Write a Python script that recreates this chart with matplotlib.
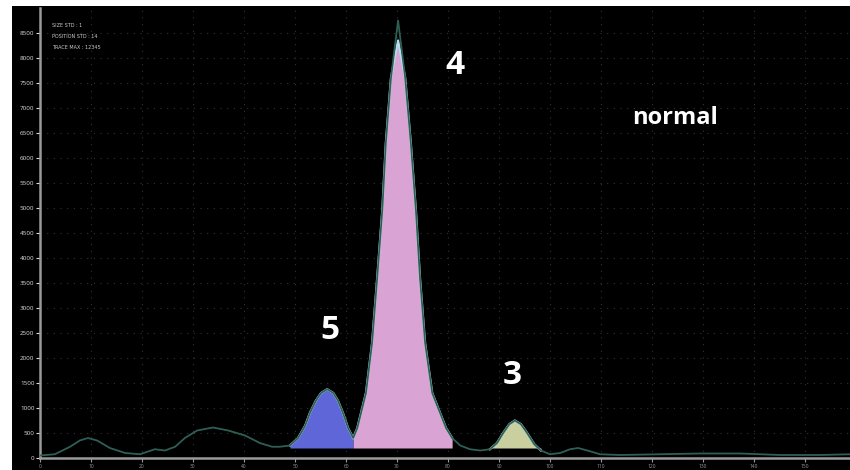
import numpy as np
import matplotlib
matplotlib.use('Agg')
import matplotlib.pyplot as plt
from matplotlib.patches import Rectangle

plt.rcParams['font.family'] = ['Open Sans', 'DejaVu Sans']

# trace (x in axis units, y in tick units)
trace_x = [0, 2.9, 5.9, 7.8, 9.4, 11.2, 13.7, 16.7, 19.6, 22.5, 24.5, 26.5, 28.4, 30.8,
           33.9, 36.9, 40.2, 43.1, 45.5, 47.0, 49.0, 50.6, 52.0, 52.9, 54.1, 55.1, 56.3,
           57.5, 58.4, 59.4, 60.4, 61.4, 62.2, 63.9, 65.1, 66.1, 67.1, 67.8, 68.8, 70.2,
           71.6, 72.7, 73.7, 74.5, 75.5, 76.9, 79.6, 80.8, 82.4, 84.3, 86.3, 88.2, 89.6,
           90.8, 92.0, 93.1, 94.3, 95.5, 96.9, 98.2, 100.0, 102.0, 103.9, 105.5, 107.3,
           109.8, 113.7, 121.6, 129.4, 137.3, 145.1, 152.9, 158.8]
trace_y = [0.1, 0.15, 0.45, 0.7, 0.8, 0.7, 0.4, 0.2, 0.15, 0.35, 0.3, 0.45, 0.8, 1.1,
           1.22, 1.1, 0.9, 0.6, 0.45, 0.45, 0.5, 0.8, 1.3, 1.8, 2.3, 2.6, 2.75,
           2.6, 2.3, 1.8, 1.2, 0.8, 1.2, 2.6, 4.6, 7.2, 9.9, 12.6, 15.2, 17.5,
           15.2, 12.6, 9.9, 7.2, 4.6, 2.6, 1.2, 0.8, 0.5, 0.35, 0.3, 0.35, 0.6,
           1.0, 1.35, 1.5, 1.35, 1.0, 0.55, 0.3, 0.15, 0.2, 0.35, 0.4, 0.3,
           0.15, 0.12, 0.15, 0.18, 0.18, 0.12, 0.12, 0.15]

# peak areas
peak_start = [49.0, 61.4, 88.2]
peak_end = [61.4, 80.8, 98.2]
peak_colors = ['#5f66d8', '#d9a3d3', '#c9cf9f']
peak_labels = ['5', '4', '3']
label_x = [56.9, 81.4, 92.5]
label_y = [5.1, 15.7, 3.3]

x_ticks = list(range(0, 160, 10))
y_ticks = list(range(0, 18))
info_lines = ['SIZE STD : 1', 'POSITION STD : 14', 'TRACE MAX : 12345']

fig = plt.figure(figsize=(8.5, 4.7), dpi=100, facecolor='white')
fig.patches.append(Rectangle((12 / 850, 0), 1, 464 / 470, transform=fig.transFigure,
                             facecolor='black', edgecolor='none', zorder=-10))
ax = fig.add_axes([40 / 850, 12 / 470, 810 / 850, 450 / 470])
ax.set_facecolor('black')

x = np.array(trace_x)
y = np.array(trace_y)

for s, e, c, lab, lx, ly in zip(peak_start, peak_end, peak_colors, peak_labels, label_x, label_y):
    m = (x >= s) & (x <= e)
    top = np.minimum(y[m], 16.7)
    ax.fill_between(x[m], 0.4, top, color=c, lw=0, zorder=2)
    ax.plot(x[m], top, color='#b8dcef', lw=1.6, zorder=3)
    ax.text(lx, ly, lab, color='white', fontsize=24, fontweight='bold',
            ha='center', va='center', zorder=5)

ax.plot(x, y, color='#2e5f55', lw=1.3, zorder=4)

ax.text(124.5, 13.6, 'normal', color='white', fontsize=17, fontweight='bold',
        ha='center', va='center')
for i, line in enumerate(info_lines):
    ax.text(2.4, 17.3 - i * 0.45, line, color='#cccccc', fontsize=3.5,
            ha='left', va='center', family='DejaVu Sans')

ax.set_xlim(0, 158.8)
ax.set_ylim(0, 18)
ax.set_xticks(x_ticks)
ax.set_xticklabels([str(v) for v in x_ticks])
ax.set_yticks(y_ticks)
ax.set_yticklabels([str(v * 500) for v in y_ticks])
ax.tick_params(axis='x', colors='#9a9a9a', labelsize=3.5, length=3, width=0.8, pad=1)
ax.tick_params(axis='y', colors='#dddddd', labelsize=4.5, length=3, width=0.8, pad=1)
ax.grid(True, color='#333333', linestyle=(0, (1, 5)), lw=0.8)
ax.set_axisbelow(True)
for side in ['top', 'right']:
    ax.spines[side].set_visible(False)
for side in ['left', 'bottom']:
    ax.spines[side].set_color('#9a9a9a')
    ax.spines[side].set_linewidth(1.8)

fig.savefig('out.png', dpi=100, facecolor='white')
